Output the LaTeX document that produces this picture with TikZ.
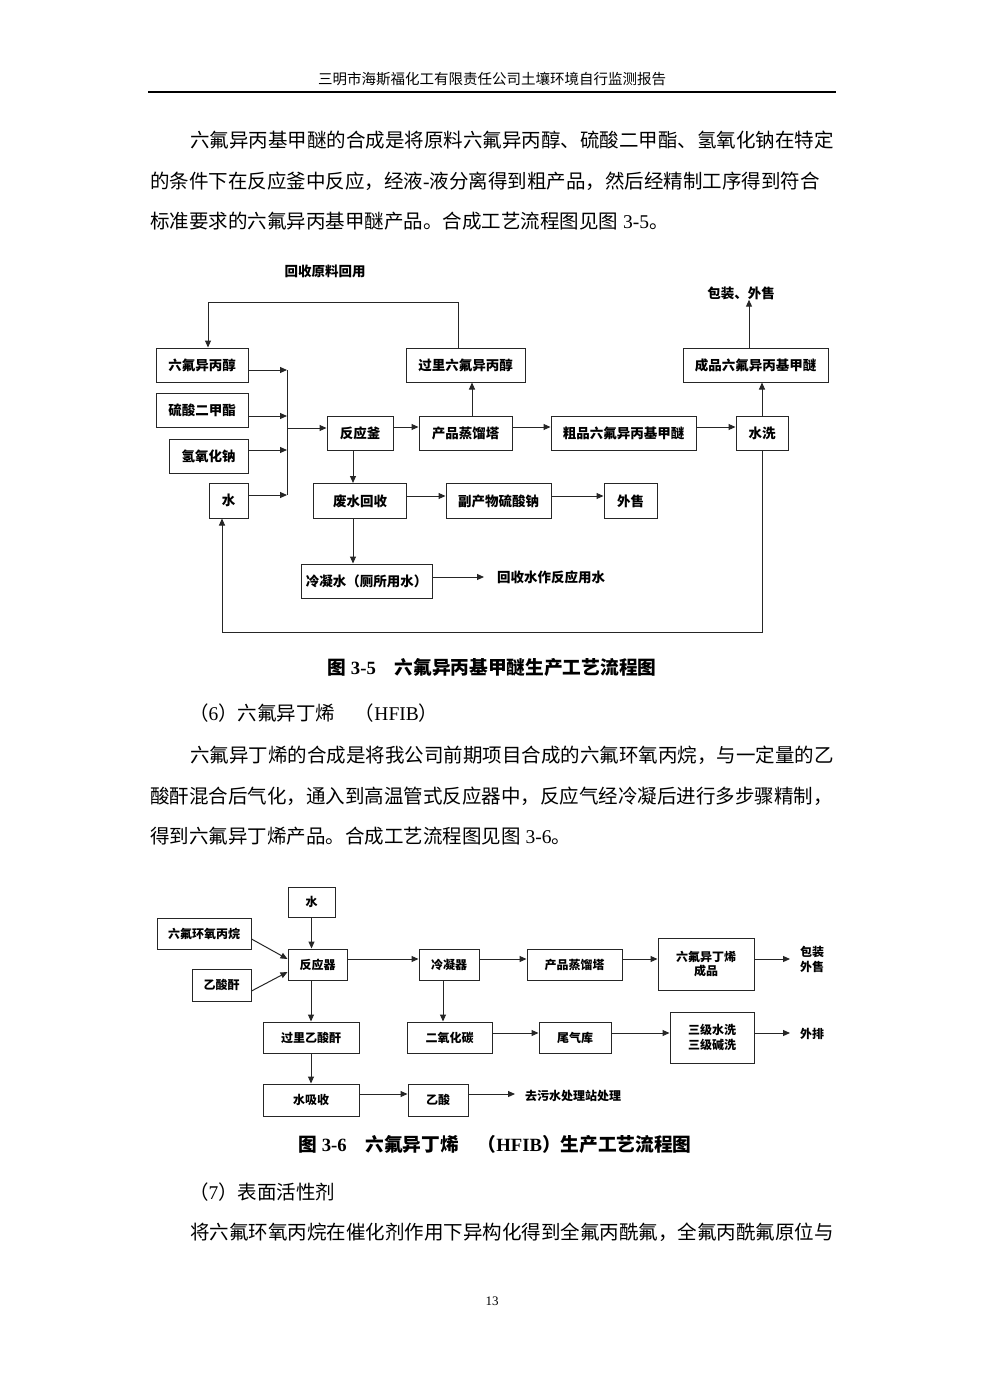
\documentclass[tikz,border=0pt]{standalone}
\usepackage{fontspec}
\setmainfont{Liberation Serif}
\newfontfamily\cjk{Noto Sans CJK SC}
\usetikzlibrary{arrows.meta}
\begin{document}
\begin{tikzpicture}[x=1pt,y=-1pt,
 bx/.style={draw=black!85, line width=1pt, inner sep=0pt, align=center, font=\cjk\bfseries\fontsize{13.5}{15}\selectfont},
 bxs/.style={bx, font=\cjk\bfseries\fontsize{12}{14.5}\selectfont},
 wh/.style 2 args={minimum width=#1pt, minimum height=#2pt},
 lab/.style={inner sep=0pt, font=\cjk\bfseries\fontsize{13.5}{15}\selectfont},
 labs/.style={inner sep=0pt, align=left, font=\cjk\bfseries\fontsize{12}{15}\selectfont},
 arr/.style={draw=black!85, line width=1pt, -{Triangle[length=7pt,width=6pt]}},
 ln/.style={draw=black!85, line width=1pt},
 body/.style={inner sep=0pt, anchor=west, font=\cjk\fontsize{19.5}{20}\selectfont},
 capt/.style={inner sep=0pt, font=\cjk\bfseries\fontsize{18.7}{20}\selectfont},
 ]
\fill[white] (0,0) rectangle (984,1392);
\useasboundingbox (0,0) rectangle (984,1392);

% header
\node[inner sep=0pt, font=\cjk\fontsize{14.5}{16}\selectfont] (hd) at (492,79) {三明市海斯福化工有限责任公司土壤环境自行监测报告};
\draw[line width=2pt] (148,92) -- (836,92);

% paragraph 1
\node[body] (p1a) at (190,140) {六氟异丙基甲醚的合成是将原料六氟异丙醇、硫酸二甲酯、氢氧化钠在特定};
\node[body] (p1b) at (150,181) {的条件下在反应釜中反应，经液{\rmfamily -}液分离得到粗产品，然后经精制工序得到符合};
\node[body] (p1c) at (150,221) {标准要求的六氟异丙基甲醚产品。合成工艺流程图见图{\rmfamily\ 3-5}。};

% ---------- Figure 3-5 ----------
\node[lab] (t3) at (325,271) {回收原料回用};
\node[bx, wh={92}{34}] (n1) at (202,365) {六氟异丙醇};
\node[bx, wh={92}{34}] (n2) at (202,410) {硫酸二甲酯};
\node[bx, wh={79}{34}] (n3) at (208.5,456) {氢氧化钠};
\node[bx, wh={39}{35}] (n4) at (228.5,500.5) {水};
\coordinate (m1) at (287,370);
\coordinate (m2) at (287,416);
\coordinate (m3) at (287,450);
\coordinate (m4) at (287,495);
\coordinate (mr) at (287,428);
\node[bx, wh={66}{34}] (r) at (360,433) {反应釜};
\node[bx, wh={93}{34}] (d) at (465.5,433) {产品蒸馏塔};
\node[bx, wh={119}{34}] (g) at (465.5,365) {过里六氟异丙醇};
\node[bx, wh={145}{34}] (c) at (623.5,433) {粗品六氟异丙基甲醚};
\node[bx, wh={52}{34}] (w) at (762,433) {水洗};
\node[bx, wh={145}{34}] (p) at (755.5,365) {成品六氟异丙基甲醚};
\node[lab] (t1) at (741,293) {包装、外售};
\node[bx, wh={93}{35}] (f) at (360,501) {废水回收};
\node[bx, wh={105}{35}] (s) at (498.5,501) {副产物硫酸钠};
\node[bx, wh={53}{35}] (o) at (630.5,501) {外售};
\node[bx, wh={131}{34}] (k) at (366.5,581) {冷凝水（厕所用水）};
\node[lab, anchor=west, inner xsep=13pt] (t2) at (484,577) {回收水作反应用水};
\coordinate (fb) at (208,302);
\coordinate (lb) at (222,632);

\draw[arr] (n1.east |- m1) -- (m1);
\draw[arr] (n2.east |- m2) -- (m2);
\draw[arr] (n3.east |- m3) -- (m3);
\draw[arr] (n4.east |- m4) -- (m4);
\draw[ln] (m1) -- (m4);
\draw[arr] (mr) -- (mr -| r.west);
\draw[arr] ([yshift=6pt]r.east) -- ([yshift=6pt]r.east -| d.west);
\draw[arr] ([yshift=6pt]d.east) -- ([yshift=6pt]d.east -| c.west);
\draw[arr] ([yshift=6pt]c.east) -- ([yshift=6pt]c.east -| w.west);
\draw[arr] ([xshift=6.5pt]d.north) -- ([xshift=6.5pt]d.north |- g.south);
\draw[arr] ([xshift=-7.5pt]g.north) |- (fb) -- (fb |- n1.north);
\draw[arr] (w.north) -- (w.north |- p.south);
\draw[arr] ([xshift=-6.5pt]p.north) -- ([xshift=-6.5pt]p.north |- t1.south);
\draw[arr] (w.south) |- (lb) -- (lb |- n4.south);
\draw[arr] ([xshift=-7pt]r.south) -- ([xshift=-7pt]r.south |- f.north);
\draw[arr] ([yshift=5pt]f.east) -- ([yshift=5pt]f.east -| s.west);
\draw[arr] ([yshift=5pt]s.east) -- ([yshift=5pt]s.east -| o.west);
\draw[arr] ([xshift=-7pt]f.south) -- ([xshift=-7pt]f.south |- k.north);
\draw[arr] ([yshift=4pt]k.east) -- (t2.west);

\node[capt] (cap1) at (492,667) {图{\rmfamily\bfseries\ 3-5}　六氟异丙基甲醚生产工艺流程图};

% section 6
\node[body] (h6) at (189,713) {（{\rmfamily 6}）六氟异丁烯　（{\rmfamily HFIB}）};
\node[body] (p2a) at (190,755) {六氟异丁烯的合成是将我公司前期项目合成的六氟环氧丙烷，与一定量的乙};
\node[body] (p2b) at (150,796) {酸酐混合后气化，通入到高温管式反应器中，反应气经冷凝后进行多步骤精制，};
\node[body] (p2c) at (150,836) {得到六氟异丁烯产品。合成工艺流程图见图{\rmfamily\ 3-6}。};

% ---------- Figure 3-6 ----------
\node[bxs, wh={47}{30}] (a) at (311.5,902) {水};
\node[bxs, wh={94}{31}] (b) at (204,933.5) {六氟环氧丙烷};
\node[bxs, wh={59}{32}] (ac) at (221.5,985) {乙酸酐};
\node[bxs, wh={59}{31}] (r2) at (317.5,964.5) {反应器};
\node[bxs, wh={60}{31}] (l) at (449,964.5) {冷凝器};
\node[bxs, wh={95}{31}] (q) at (574.5,964.5) {产品蒸馏塔};
\node[bxs, wh={96}{52}] (h) at (706,964) {六氟异丁烯\\成品};
\node[labs, anchor=west, inner xsep=0pt] (bz) at (800,959) {包装\\外售};
\node[bxs, wh={85}{31}] (e) at (449.5,1037.5) {二氧化碳};
\node[bxs, wh={72}{31}] (wq) at (575,1037.5) {尾气库};
\node[bxs, wh={84}{51}] (sj) at (712,1037.5) {三级水洗\\三级碱洗};
\node[labs, anchor=west] (wp) at (800,1034) {外排};
\node[bxs, wh={96}{31}] (gl) at (311,1037.5) {过里乙酸酐};
\node[bxs, wh={96}{32}] (xs) at (311,1100) {水吸收};
\node[bxs, wh={60}{32}] (ys) at (438,1100) {乙酸};
\node[labs, anchor=west] (qw) at (525,1096) {去污水处理站处理};

\draw[arr] (a.south) -- (a.south |- r2.north);
\draw[arr] ([yshift=-5.5pt]b.east) -- ([yshift=5.5pt]r2.west);
\draw[arr] ([yshift=-6pt]ac.east) -- ([yshift=-7.5pt]r2.west);
\draw[arr] ([yshift=5.5pt]r2.east) -- ([yshift=5.5pt]r2.east -| l.west);
\draw[arr] ([yshift=5.5pt]l.east) -- ([yshift=5.5pt]l.east -| q.west);
\draw[arr] ([yshift=5.5pt]q.east) -- ([yshift=5.5pt]q.east -| h.west);
\draw[arr] ([yshift=5pt]h.east) -- ([yshift=5pt,xshift=-10pt]h.east -| bz.west);
\draw[arr] ([xshift=-6.5pt]r2.south) -- ([xshift=-6.5pt]r2.south |- gl.north);
\draw[arr] (gl.south) -- (gl.south |- xs.north);
\draw[arr] ([yshift=6pt]xs.east) -- ([yshift=6pt]xs.east -| ys.west);
\draw[arr] ([yshift=6pt]ys.east) -- ([yshift=6pt,xshift=-10pt]ys.east -| qw.west);
\draw[arr] ([xshift=-6pt]l.south) -- ([xshift=-6pt]l.south |- e.north);
\draw[arr] ([yshift=4.5pt]e.east) -- ([yshift=4.5pt]e.east -| wq.west);
\draw[arr] ([yshift=4.5pt]wq.east) -- ([yshift=4.5pt]wq.east -| sj.west);
\draw[arr] ([yshift=4.5pt]sj.east) -- ([yshift=4.5pt,xshift=-10pt]sj.east -| wp.west);

\node[capt] (cap2) at (495,1144) {图{\rmfamily\bfseries\ 3-6}　六氟异丁烯　（{\rmfamily\bfseries HFIB}）生产工艺流程图};

% section 7
\node[body] (h7) at (189,1192) {（{\rmfamily 7}）表面活性剂};
\node[body] (p3a) at (190,1232) {将六氟环氧丙烷在催化剂作用下异构化得到全氟丙酰氟，全氟丙酰氟原位与};

\node[inner sep=0pt, font=\rmfamily\fontsize{13}{14}\selectfont] (pg) at (492,1301) {13};
\end{tikzpicture}
\end{document}
